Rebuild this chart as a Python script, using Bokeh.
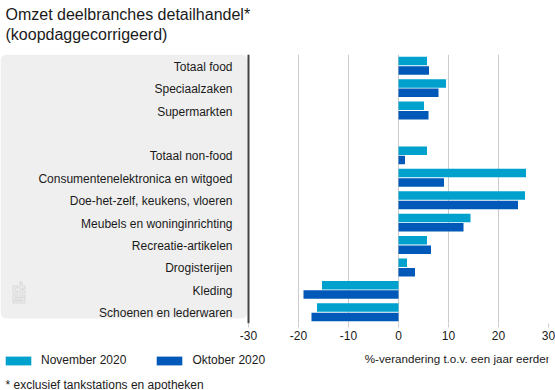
from bokeh.plotting import figure
from bokeh.layouts import column
from bokeh.core.properties import value
from bokeh.models import (Range1d, FactorRange, Label, Legend, LegendItem,
                          FixedTicker, ColumnDataSource, BoxAnnotation, Span,
                          PolyAnnotation)
from bokeh.transform import dodge
from bokeh.embed import file_html
from bokeh.resources import INLINE

# ---- data ----
categories = ["Totaal food", "Speciaalzaken", "Supermarkten", " ",
              "Totaal non-food", "Consumentenelektronica en witgoed",
              "Doe-het-zelf, keukens, vloeren", "Meubels en woninginrichting",
              "Recreatie-artikelen", "Drogisterijen", "Kleding",
              "Schoenen en lederwaren"]
november_2020 = [5.7, 9.5, 5.1, None, 5.7, 25.5, 25.3, 14.4, 5.7, 1.7, -15.3, -16.3]
oktober_2020 = [6.1, 8.0, 6.0, None, 1.3, 9.1, 23.9, 13.0, 6.5, 3.3, -19.0, -17.4]
x_ticks = [-30, -20, -10, 0, 10, 20, 30]
series_names = ["November 2020", "Oktober 2020"]
title_lines = ["Omzet deelbranches detailhandel*", "(koopdaggecorrigeerd)"]
x_title = "%-verandering t.o.v. een jaar eerder"
footnote = "* exclusief tankstations en apotheken"

FONT = "Liberation Sans"
C_NOV = "#00a1cd"
C_OKT = "#0058b8"
TXT = "#1a1a1a"

rows = [i for i, v in enumerate(november_2020) if v is not None]
src = ColumnDataSource(dict(
    cat=[categories[i] for i in rows],
    nov=[november_2020[i] for i in rows],
    okt=[oktober_2020[i] for i in rows],
))

W = 555
H0, H1, H2 = 54, 291, 45           # title strip / chart / legend strip
FB = 269                           # frame bottom inside the chart figure
FR = 548                           # frame right
X_MIN, X_MAX = -30, 30
PX_PER_UNIT = 5.0
LABEL_AREA = 248                   # pixels left of the -30 line
x_start = X_MIN - LABEL_AREA / PX_PER_UNIT


def strip(height):
    f = figure(width=W, height=height, output_backend="svg",
               toolbar_location=None, x_range=Range1d(0, W),
               y_range=Range1d(0, height), min_border_left=0,
               min_border_right=0, min_border_top=0, min_border_bottom=0)
    f.axis.visible = False
    f.grid.visible = False
    f.outline_line_color = None
    f.border_fill_color = "white"
    return f


def lab(fig, fig_top, text, x, y, size, **kw):
    # x, y in picture pixels (y measured from the top of the whole picture)
    fig.add_layout(Label(x=x, y=fig.height - (y - fig_top), x_units="screen",
                         y_units="screen", text=text, text_font=FONT,
                         text_font_size=size, text_color=TXT, **kw))


# ---- title strip ----
t = strip(H0)
lab(t, 0, title_lines[0], 5, 13.5, "16px", text_baseline="alphabetic")
lab(t, 0, title_lines[1], 5, 33.5, "16px", text_baseline="alphabetic")

# ---- main chart ----
p = figure(width=W, height=H1, output_backend="svg", toolbar_location=None,
           x_range=Range1d(x_start, X_MAX),
           y_range=FactorRange(factors=list(reversed(categories))),
           min_border_left=0, min_border_right=W - FR,
           min_border_top=0, min_border_bottom=H1 - FB)
p.outline_line_color = None
p.background_fill_color = "white"
p.border_fill_color = "white"
p.yaxis.visible = False

# grey label panel (screen units, relative to the frame's bottom-left)
p.add_layout(BoxAnnotation(left=0, right=LABEL_AREA - 1, bottom=5, top=FB,
                           left_units="screen", right_units="screen",
                           top_units="screen", bottom_units="screen",
                           fill_color="#efefef", fill_alpha=1, line_color=None,
                           border_radius=6, level="underlay"))

# bars
r_nov = p.hbar(y=dodge("cat", 0.21, range=p.y_range), left=0, right="nov",
               height=0.38, source=src, fill_color=C_NOV, line_color=None)
r_okt = p.hbar(y=dodge("cat", -0.21, range=p.y_range), left=0, right="okt",
               height=0.38, source=src, fill_color=C_OKT, line_color=None)

# category labels
p.text(x=X_MIN, y="cat", text="cat", source=src, x_offset=-16, y_offset=1,
       text_align="right", text_baseline="middle", text_font=value(FONT),
       text_font_size="12px", text_color=TXT)

# left axis line at -30
p.add_layout(Span(location=X_MIN, dimension="height", line_color="#444444",
                  line_width=2))

# x axis
xa = p.xaxis[0]
xa.ticker = FixedTicker(ticks=x_ticks)
xa.major_label_overrides = {t_: str(t_) for t_ in x_ticks}
xa.axis_line_color = None
xa.major_tick_out = 4
xa.major_tick_in = 0
xa.major_tick_line_color = "#cccccc"
xa.minor_tick_line_color = None
xa.major_label_standoff = 3
xa.major_label_text_font = FONT
xa.major_label_text_font_size = "12px"
xa.major_label_text_color = TXT

p.xgrid.grid_line_color = "#cccccc"
p.ygrid.grid_line_color = None

# cbs logo (outline shapes, screen units; y given in picture pixels)
def logo_poly(pts):
    xs = [x for x, _ in pts]
    ys = [H0 + FB - y for _, y in pts]
    p.add_layout(PolyAnnotation(xs=xs, ys=ys, xs_units="screen", ys_units="screen",
                                fill_alpha=0, line_color="#a8a8a8", line_width=1))

logo_poly([(12.5, 285.5), (17.5, 285.5), (17.5, 287.5), (14.5, 287.5), (14.5, 290.5),
           (17.5, 290.5), (17.5, 292.5), (12.5, 292.5)])
logo_poly([(19.5, 281.5), (21.5, 281.5), (21.5, 285.5), (24.5, 285.5), (24.5, 292.5),
           (19.5, 292.5)])
logo_poly([(21.5, 287.5), (22.5, 287.5), (22.5, 290.5), (21.5, 290.5)])
logo_poly([(12.5, 294.5), (24.5, 294.5), (24.5, 296.5), (14.5, 296.5), (14.5, 297.5),
           (24.5, 297.5), (24.5, 302.5), (12.5, 302.5), (12.5, 300.5), (22.5, 300.5),
           (22.5, 299.5), (12.5, 299.5)])

# ---- legend strip ----
q = strip(H2)
hidden = ColumnDataSource(dict(y=[-100], right=[1]))   # keeps swatches drawable
l_nov = q.hbar(y="y", right="right", height=1, source=hidden,
               fill_color=C_NOV, line_color=None)
l_okt = q.hbar(y="y", right="right", height=1, source=hidden,
               fill_color=C_OKT, line_color=None)
legend = Legend(items=[LegendItem(label=series_names[0], renderers=[l_nov]),
                       LegendItem(label=series_names[1], renderers=[l_okt])],
                orientation="horizontal", location=(2, 23),
                glyph_width=32, glyph_height=11, label_standoff=7,
                spacing=27, padding=0, margin=0, label_height=14,
                label_text_font=FONT, label_text_font_size="12px",
                label_text_color=TXT, border_line_color=None,
                background_fill_alpha=0)
q.add_layout(legend)

top_q = H0 + H1
lab(q, top_q, x_title, 549, 358, "11.6px", text_align="right",
    text_baseline="middle")
lab(q, top_q, footnote, 5, 384, "12px", text_baseline="middle")

layout = column(t, p, q, spacing=0)
open("out.html", "w").write(file_html(layout, INLINE))
